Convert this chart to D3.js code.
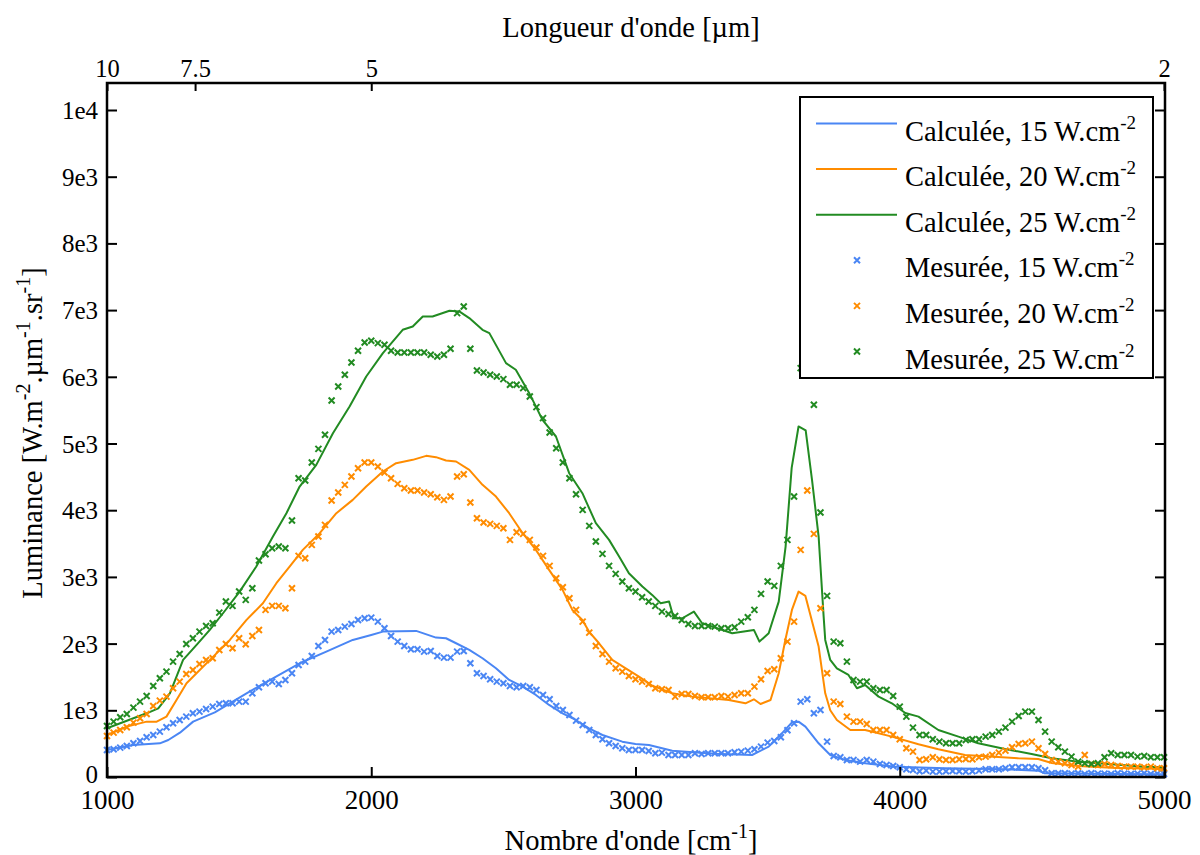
<!DOCTYPE html>
<html><head><meta charset="utf-8">
<script src="https://cdn.jsdelivr.net/npm/d3@7"></script>
<style>
body{margin:0;background:#fff}
text{font-family:"Liberation Serif","Times New Roman",serif;fill:#000}
</style>
</head><body>
<svg id="c" width="1200" height="855"></svg>
<script>
// ---------- data ----------
const seriesNames = ["15", "20", "25"];
const seriesColors = ["#4a86f4", "#ff8c00", "#228b22"];

const measuredX = [1000,1025,1050,1075,1100,1125,1150,1175,1200,1225,1250,1275,1300,1325,1350,1375,1400,1425,1450,1475,1500,1525,1550,1575,1600,1625,1650,1675,1700,1725,1750,1775,1800,1825,1850,1875,1900,1925,1950,1975,2000,2025,2050,2075,2100,2125,2150,2175,2200,2225,2250,2275,2300,2325,2350,2375,2400,2425,2450,2475,2500,2525,2550,2575,2600,2625,2650,2675,2700,2725,2750,2775,2800,2825,2850,2875,2900,2925,2950,2975,3000,3025,3050,3075,3100,3125,3150,3175,3200,3225,3250,3275,3300,3325,3350,3375,3400,3425,3450,3475,3500,3525,3550,3575,3600,3625,3650,3675,3700,3725,3750,3775,3800,3825,3850,3875,3900,3925,3950,3975,4000,4025,4050,4075,4100,4125,4150,4175,4200,4225,4250,4275,4300,4325,4350,4375,4400,4425,4450,4475,4500,4525,4550,4575,4600,4625,4650,4675,4700,4725,4750,4775,4800,4825,4850,4875,4900,4925,4950,4975,5000];

const measured15 = [405,415,440,465,505,540,595,630,680,745,805,855,905,955,980,1020,1055,1095,1105,1105,1130,1130,1255,1345,1405,1430,1395,1455,1555,1680,1730,1815,1965,2055,2180,2205,2255,2295,2355,2380,2390,2330,
2230,2115,2030,1965,1915,1915,1880,1890,1815,1790,1790,1880,1890,1705,1555,1515,1465,1430,1405,1365,1345,1365,1345,1305,1230,1165,1065,1005,930,845,780,705,630,565,505,465,430,405,405,405,390,
355,365,330,330,330,330,355,345,355,355,355,355,370,380,395,415,455,515,540,595,
700,805,1130,1165,955,1005,530,315,295,255,255,230,255,230,195,180,165,145,
115,105,85,95,80,80,85,90,85,80,85,95,115,115,115,130,145,145,145,145,130,100,55,55,55,50,55,45,55,50,50,45,55,50,45,50,55,45,50,45];

const measured20 = [615,665,705,745,815,880,945,1065,1145,1205,1330,1430,1545,1605,1695,1755,1780,1905,1995,1930,2080,1990,2115,2205,2505,2565,2565,2530,2830,3315,3280,3480,3605,3780,4145,4265,4380,4505,4630,4715,4715,4655,
4565,4480,4395,4330,4295,4295,4265,4240,4195,4155,4205,4505,4540,4115,3880,3815,3795,3765,3730,3555,3670,3645,3555,3440,3315,3165,2980,2845,2680,2505,2330,2165,1965,1845,1730,1630,1580,1515,1465,1430,1395,
1330,1315,1305,1205,1245,1245,1215,1195,1195,1195,1215,1205,1230,1255,1255,1355,1465,1590,1615,1780,
2030,2330,3405,4295,3645,2530,1555,1130,1095,905,830,830,795,705,705,705,630,565,
430,380,255,265,295,265,255,255,265,270,265,295,305,330,365,395,445,495,505,530,430,345,255,230,205,180,155,330,195,180,195,180,165,155,155,155,145,155,130,130];

const measured25 = [765,830,895,945,1040,1130,1215,1365,1480,1580,1730,1845,1995,2080,2180,2265,2305,2465,2630,2565,2780,2655,2830,3245,3340,3430,3455,3430,3845,4480,4445,4715,4920,5130,5645,5855,6030,6215,6390,6515,6540,6505,
6480,6390,6365,6365,6365,6365,6365,6330,6305,6330,6420,6955,7055,6420,6095,6065,6030,6005,5965,5880,5880,5830,5705,5545,5380,5165,4930,4715,4480,4240,4005,3765,3530,3345,3165,3045,2930,2830,2780,2695,2630,
2565,2480,2445,2415,2355,2295,2265,2265,2265,2255,2230,2230,2245,2330,2395,2505,2745,2930,2865,3165,
3555,4205,6130,6700,5580,3965,2715,2030,2005,1730,1455,1430,1430,1330,1305,1305,1215,1055,
905,740,630,630,565,530,505,505,505,555,565,565,605,630,680,740,830,915,980,980,855,680,530,445,380,305,230,205,195,205,295,355,330,330,330,305,315,295,295,295];

const calc15X = [1000,1100,1200,1232,1276,1326,1408,1528,1628,1729,1830,1930,2000,2044,2170,2245,2283,2321,2371,2421,2472,2522,2573,2623,2673,2724,2774,2824,2875,2950,3000,3051,3139,3300,3441,3504,3554,3592,3617,3643,3693,3737,3794,3869,3983,4172,4398,4524,4549,4801,5000];
const calc15 = [405,480,505,555,665,830,970,1255,1480,1705,1880,2055,2130,2180,2190,2090,2080,2005,1905,1780,1630,1455,1355,1230,1080,955,855,730,630,530,495,480,395,350,330,455,655,820,830,755,505,330,255,205,155,130,115,95,55,45,40];

const calc20X = [1000,1075,1150,1188,1225,1263,1301,1351,1402,1465,1528,1590,1641,1691,1741,1805,1868,1930,1981,2044,2094,2157,2208,2245,2283,2321,2371,2421,2472,2522,2573,2623,2673,2724,2761,2799,2824,2862,2912,2963,3013,3063,3139,3214,3353,3416,3448,3473,3511,3542,3567,3592,3617,3643,3693,3718,3737,3762,3813,3869,3920,3970,4071,4146,4247,4373,4449,4524,4575,4675,4801,5000];
const calc20 = [630,755,830,830,905,1155,1405,1605,1805,2055,2355,2605,2905,3155,3405,3655,3955,4155,4355,4580,4705,4755,4815,4795,4745,4730,4605,4380,4205,3955,3655,3405,3105,2805,2505,2355,2180,2005,1755,1630,1505,1370,1255,1205,1155,1105,1165,1095,1155,1555,2055,2505,2780,2715,1955,1255,1000,855,705,705,655,605,490,415,330,300,280,270,210,165,140,120];

const calc25X = [1000,1100,1150,1194,1238,1288,1339,1389,1439,1502,1565,1628,1679,1729,1792,1855,1918,1981,2044,2119,2157,2195,2232,2296,2333,2371,2421,2447,2510,2547,2598,2648,2699,2749,2799,2850,2900,2938,2975,3026,3063,3095,3127,3145,3177,3221,3252,3366,3448,3469,3504,3542,3568,3591,3617,3644,3668,3693,3712,3718,3737,3762,3806,3838,3869,3920,3970,4021,4071,4146,4222,4297,4398,4499,4575,4675,4801,4927,5000];
const calc25 = [730,880,955,1030,1255,1755,1980,2205,2455,2780,3155,3605,3955,4355,4680,5155,5555,6005,6355,6705,6755,6905,6905,6990,6980,6880,6705,6655,6205,6105,5755,5355,5105,4555,4255,3805,3555,3305,3055,2855,2730,2605,2630,2380,2380,2480,2305,2155,2205,2030,2155,2630,3455,4635,5255,5195,4455,3605,2405,2055,1755,1630,1530,1330,1380,1205,1105,960,905,705,605,505,420,345,280,230,190,155,145];

const yTickValues = [0,1000,2000,3000,4000,5000,6000,7000,8000,9000,10000];
const yTickLabels = ["0","1e3","2e3","3e3","4e3","5e3","6e3","7e3","8e3","9e3","1e4"];
const xTickValues = [1000,2000,3000,4000,5000];
const xTickLabels = ["1000","2000","3000","4000","5000"];
const topTickWavelengths = [10,7.5,5,2];
const topTickLabels = ["10","7.5","5","2"];

const legendCalcLabel = "Calculée, ";
const legendMeasLabel = "Mesurée, ";
const unitLabel = " W.cm";

// ---------- drawing ----------
const svg = d3.select("#c");
const L = 107, R = 1165, T = 83, B = 777;
const x = d3.scaleLinear().domain([1000, 5000]).range([L, 1164]);
const y = d3.scaleLinear().domain([0, 10000]).range([B, 110]);

const calcX = [calc15X, calc20X, calc25X];
const calcY = [calc15, calc20, calc25];
const measY = [measured15, measured20, measured25];

const line = d3.line().x(d => x(d[0])).y(d => y(d[1]));
const plot = svg.append("g");

calcX.forEach((xs, i) => {
  plot.append("path")
    .datum(xs.map((v, j) => [v, calcY[i][j]]))
    .attr("d", line)
    .attr("fill", "none")
    .attr("stroke", seriesColors[i])
    .attr("stroke-width", 2)
    .attr("stroke-linejoin", "round");
});

const xMark = "M-3,-3L3,3M-3,3L3,-3";
measY.forEach((vals, i) => {
  plot.append("g").selectAll("path")
    .data(vals.map((v, j) => [measuredX[j], v]))
    .join("path")
    .attr("d", xMark)
    .attr("transform", d => `translate(${x(d[0])},${y(d[1])})`)
    .attr("fill", "none")
    .attr("stroke", seriesColors[i])
    .attr("stroke-width", 2);
});

// axes
function styleAxis(g, fs) {
  g.select(".domain").remove();
  g.selectAll(".tick line").attr("stroke", "#000").attr("stroke-width", 2);
  g.selectAll(".tick text").attr("font-family", "Liberation Serif, Times New Roman, serif").attr("font-size", fs).attr("fill", "#000");
}
svg.append("g").attr("transform", `translate(${L},0)`)
  .call(d3.axisLeft(y).tickValues(yTickValues).tickSize(-10).tickPadding(9)
    .tickFormat((d, i) => yTickLabels[i]))
  .call(g => styleAxis(g, 25))
  .selectAll(".tick text").attr("dy", (d, i) => i === 0 ? "0.2em" : "0.34em");

svg.append("g").attr("transform", `translate(${R},0)`)
  .call(d3.axisRight(y).tickValues(yTickValues).tickSize(-10).tickFormat(""))
  .call(g => styleAxis(g, 25));

svg.append("g").attr("transform", `translate(0,${B})`)
  .call(d3.axisBottom(x).tickValues(xTickValues).tickSize(-10).tickPadding(13)
    .tickFormat((d, i) => xTickLabels[i]))
  .call(g => styleAxis(g, 27));

const topX = d3.scaleLinear().domain([10000/10, 10000/2]).range([L, 1164]);
svg.append("g").attr("transform", `translate(0,${T})`)
  .call(d3.axisTop(topX).tickValues(topTickWavelengths.map(w => 10000 / w)).tickSize(-8).tickPadding(6)
    .tickFormat((d, i) => topTickLabels[i]))
  .call(g => styleAxis(g, 24.5));

// legend
const lg = svg.append("g");
lg.append("rect").attr("x", 800).attr("y", 97).attr("width", 353).attr("height", 281)
  .attr("fill", "#fff").attr("stroke", "#000").attr("stroke-width", 2);
const rowY0 = 123.5, rowStep = 45.6;
function legendText(yy, prefix, name) {
  const t = lg.append("text").attr("x", 905).attr("y", yy + 17).attr("font-size", 28.5);
  t.append("tspan").text(prefix + name + unitLabel);
  t.append("tspan").attr("dy", -12).attr("font-size", 19).text("-2");
}
seriesNames.forEach((n, i) => {
  const yy = rowY0 + i * rowStep;
  lg.append("line").attr("x1", 816).attr("x2", 897).attr("y1", yy).attr("y2", yy)
    .attr("stroke", seriesColors[i]).attr("stroke-width", 2);
  legendText(yy, legendCalcLabel, n);
});
seriesNames.forEach((n, i) => {
  const yy = rowY0 + (i + 3) * rowStep;
  lg.append("path").attr("d", xMark).attr("transform", `translate(857,${yy})`)
    .attr("fill", "none").attr("stroke", seriesColors[i]).attr("stroke-width", 2);
  legendText(yy, legendMeasLabel, n);
});

// frame
svg.append("rect").attr("x", L).attr("y", T).attr("width", R - L).attr("height", B - T)
  .attr("fill", "none").attr("stroke", "#000").attr("stroke-width", 2.5);

// titles
svg.append("text").attr("x", 631).attr("y", 37).attr("text-anchor", "middle").attr("font-size", 28.5)
  .text("Longueur d'onde [µm]");
const bt = svg.append("text").attr("x", 631).attr("y", 850).attr("text-anchor", "middle").attr("font-size", 28.5);
bt.append("tspan").text("Nombre d'onde [cm");
bt.append("tspan").attr("dy", -12).attr("font-size", 20).text("-1");
bt.append("tspan").attr("dy", 12).text("]");

const yt = svg.append("text").attr("transform", "translate(42,433) rotate(-90)").attr("text-anchor", "middle").attr("font-size", 28.5);
yt.append("tspan").text("Luminance [W.m");
yt.append("tspan").attr("dy", -12).attr("font-size", 20).text("-2");
yt.append("tspan").attr("dy", 12).text(".µm");
yt.append("tspan").attr("dy", -12).attr("font-size", 20).text("-1");
yt.append("tspan").attr("dy", 12).text(".sr");
yt.append("tspan").attr("dy", -12).attr("font-size", 20).text("-1");
yt.append("tspan").attr("dy", 12).text("]");
</script>
</body></html>
